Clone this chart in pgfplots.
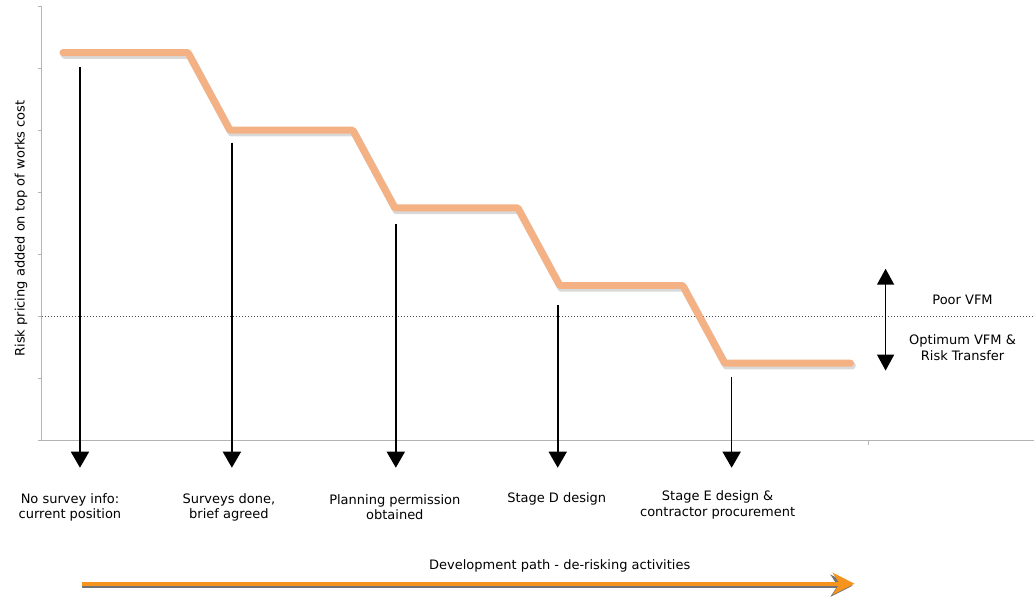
\documentclass[border=0pt]{standalone}
\usepackage{fontspec}
\setmainfont{DejaVu Sans}
\usepackage{pgfplots}
\pgfplotsset{compat=1.18}
\usetikzlibrary{arrows.meta}
\definecolor{salmon}{HTML}{F4B183}
\definecolor{devorange}{HTML}{F7941D}
\definecolor{axgray}{HTML}{B4B4B4}
\tikzset{lbl/.style={font=\fontsize{13bp}{15.5bp}\selectfont, align=center, inner sep=0pt}}
\begin{document}
\begin{tikzpicture}
\begin{axis}[
  scale only axis, width=992bp, height=435bp,
  xmin=42, xmax=1034, ymin=0, ymax=7,
  axis x line*=bottom, axis y line*=left,
  axis line style={axgray, line width=1bp},
  xtick={869}, ytick={0,1,...,7},
  xticklabels={}, yticklabels={},
  tick align=outside, major tick length=4bp,
  tick style={axgray, line width=0.8bp},
  clip=false,
]
% invisible bounding box covering the whole picture
\path (axis cs:0,-2.5264) rectangle (axis cs:1034,7.0966);

% threshold line
\addplot[black!70, dotted, line width=1bp] coordinates {(42,2) (1034,2)};

% risk pricing step line (shadow + line)
\addplot[black, opacity=0.15, line width=7.5bp, line cap=round, line join=round, xshift=1.5bp, yshift=-2.5bp] table {
x y
63 6.25
188 6.25
230 5
353 5
395 3.75
518 3.75
560 2.5
683 2.5
725 1.25
851 1.25
};
\addplot[salmon, line width=7bp, line cap=round, line join=round] table {
x y
63 6.25
188 6.25
230 5
353 5
395 3.75
518 3.75
560 2.5
683 2.5
725 1.25
851 1.25
};

% stage arrows
\addplot[black, line width=1.6bp, -{Triangle[width=18bp,length=16bp]}] coordinates {(80,6.02) (80,-0.434)};
\addplot[black, line width=1.6bp, -{Triangle[width=18bp,length=16bp]}] coordinates {(232,4.80) (232,-0.434)};
\addplot[black, line width=1.6bp, -{Triangle[width=18bp,length=16bp]}] coordinates {(396,3.49) (396,-0.434)};
\addplot[black, line width=1.6bp, -{Triangle[width=18bp,length=16bp]}] coordinates {(558,2.19) (558,-0.434)};
\addplot[black, line width=1.6bp, -{Triangle[width=18bp,length=16bp]}] coordinates {(732,1.03) (732,-0.434)};

% VFM double arrow
\addplot[black, line width=1.6bp, {Triangle[width=17bp,length=16bp]}-{Triangle[width=17bp,length=16bp]}] coordinates {(886,2.77) (886,1.13)};

% development path arrow (shadow + arrow)
\addplot[black!55, line width=4bp, yshift=-2bp, -{Stealth[length=22bp,width=22bp,inset=7bp]}] coordinates {(82,-2.301) (853,-2.301)};
\addplot[devorange, line width=4bp, -{Stealth[length=22bp,width=22bp,inset=7bp]}] coordinates {(82,-2.301) (855,-2.301)};

% labels
\node[lbl, rotate=90] at (axis cs:21,3.42) {Risk pricing added on top of works cost};
\node[lbl] at (axis cs:70,-1.07) {No survey info:\\current position};
\node[lbl] at (axis cs:229,-1.07) {Surveys done,\\brief agreed};
\node[lbl] at (axis cs:395,-1.07) {Planning permission\\obtained};
\node[lbl] at (axis cs:557,-0.933) {Stage D design};
\node[lbl] at (axis cs:718,-1.03) {Stage E design \&\\contractor procurement};
\node[lbl] at (axis cs:560,-2.011) {Development path - de-risking activities};
\node[lbl] at (axis cs:963,2.27) {Poor VFM};
\node[lbl] at (axis cs:963,1.50) {Optimum VFM \&\\Risk Transfer};
\end{axis}
\end{tikzpicture}
\end{document}
